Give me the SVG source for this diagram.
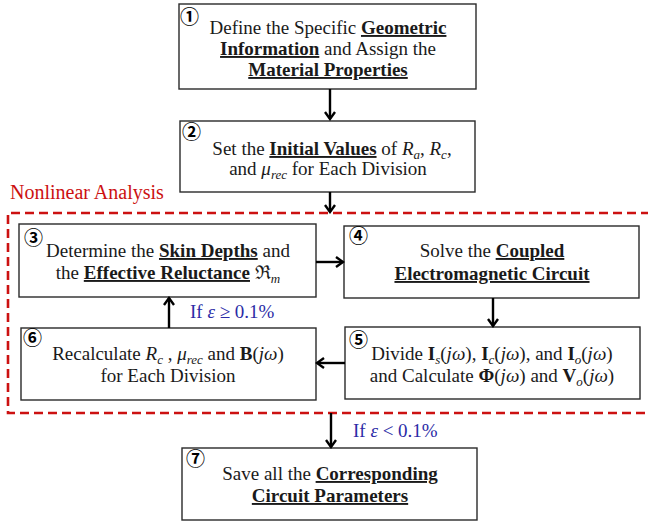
<svg xmlns="http://www.w3.org/2000/svg" width="648" height="523" viewBox="0 0 648 523">
<defs>
<marker id="ah" markerWidth="12" markerHeight="12" refX="10" refY="6" orient="auto" markerUnits="userSpaceOnUse">
<path d="M3,1 L10,6 L3,11" fill="none" stroke="#000" stroke-width="2.4" stroke-linejoin="miter"/>
</marker>
<style>
.box{fill:#fff;stroke:#2a2a2a;stroke-width:1.4}
.t{font-family:"Liberation Serif","Times New Roman","DejaVu Serif",serif;font-size:19px;fill:#1a1a1a;text-anchor:middle}
.b{font-weight:bold}
.u{text-decoration:underline}
.i{font-style:italic}
.s{font-size:13px;font-style:italic}
.num{font-family:"Noto Sans CJK JP","DejaVu Sans",sans-serif;font-size:19px;font-weight:bold;fill:#000}
.arr{stroke:#000;stroke-width:2.4;fill:none;marker-end:url(#ah)}
.dash{stroke:#cc1111;stroke-width:2.6;fill:none;stroke-dasharray:9 5}
.lbl{font-family:"Liberation Serif","Times New Roman",serif;font-size:19px;fill:#2b2ba6}
.red{font-family:"Liberation Serif","Times New Roman",serif;font-size:20px;fill:#cc1111}
</style>
</defs>

<g id="region">
<path class="dash" d="M650,213 H8 V413 H650"/>
<text class="red" x="10" y="199">Nonlinear Analysis</text>
</g>

<g id="node1">
<rect class="box" x="179" y="4" width="297" height="85"/>
<text class="num" x="180" y="24">①</text>
<text class="t" x="328" y="34">Define the Specific <tspan class="b u">Geometric</tspan></text>
<text class="t" x="328" y="55"><tspan class="b u">Information</tspan> and Assign the</text>
<text class="t" x="328" y="76"><tspan class="b u">Material Properties</tspan></text>
</g>

<g id="node2">
<rect class="box" x="180" y="121" width="295" height="71"/>
<text class="num" x="182" y="139">②</text>
<text class="t" x="332" y="155">Set the <tspan class="b u">Initial Values</tspan> of <tspan class="i">R</tspan><tspan class="s" dy="4">a</tspan><tspan dy="-4">, </tspan><tspan class="i">R</tspan><tspan class="s" dy="4">c</tspan><tspan dy="-4">,</tspan></text>
<text class="t" x="328" y="175">and <tspan class="i">μ</tspan><tspan class="s" dy="4">rec</tspan><tspan dy="-4"> for Each Division</tspan></text>
</g>

<g id="node3">
<rect class="box" x="19" y="224" width="297" height="73"/>
<text class="num" x="24" y="245">③</text>
<text class="t" x="168" y="257">Determine the <tspan class="b u">Skin Depths</tspan> and</text>
<text class="t" x="168" y="279">the <tspan class="b u">Effective Reluctance</tspan> ℜ<tspan class="s" dy="4">m</tspan></text>
</g>

<g id="node4">
<rect class="box" x="344" y="226" width="295" height="72"/>
<text class="num" x="349" y="243">④</text>
<text class="t" x="492" y="257">Solve the <tspan class="b u">Coupled</tspan></text>
<text class="t" x="492" y="280"><tspan class="b u">Electromagnetic Circuit</tspan></text>
</g>

<g id="node5">
<rect class="box" x="345" y="327" width="295" height="72"/>
<text class="num" x="349" y="347">⑤</text>
<text class="t" x="492" y="360">Divide <tspan class="b">I</tspan><tspan class="s" dy="4">s</tspan><tspan dy="-4">(</tspan><tspan class="i">jω</tspan>), <tspan class="b">I</tspan><tspan class="s" dy="4">c</tspan><tspan dy="-4">(</tspan><tspan class="i">jω</tspan>), and <tspan class="b">I</tspan><tspan class="s" dy="4">o</tspan><tspan dy="-4">(</tspan><tspan class="i">jω</tspan>)</text>
<text class="t" x="492" y="382">and Calculate <tspan class="b">Φ</tspan>(<tspan class="i">jω</tspan>) and <tspan class="b">V</tspan><tspan class="s" dy="4">o</tspan><tspan dy="-4">(</tspan><tspan class="i">jω</tspan>)</text>
</g>

<g id="node6">
<rect class="box" x="21" y="328" width="295" height="72"/>
<text class="num" x="23" y="345">⑥</text>
<text class="t" x="168" y="360">Recalculate <tspan class="i">R</tspan><tspan class="s" dy="4">c</tspan><tspan dy="-4"> , </tspan><tspan class="i">μ</tspan><tspan class="s" dy="4">rec</tspan><tspan dy="-4"> and </tspan><tspan class="b">B</tspan>(<tspan class="i">jω</tspan>)</text>
<text class="t" x="168" y="382">for Each Division</text>
</g>

<g id="node7">
<rect class="box" x="182" y="448" width="295" height="72"/>
<text class="num" x="186" y="466">⑦</text>
<text class="t" x="330" y="480">Save all the <tspan class="b u">Corresponding</tspan></text>
<text class="t" x="330" y="502"><tspan class="b u">Circuit Parameters</tspan></text>
</g>

<g id="connectors">
<line class="arr" x1="330" y1="89" x2="330" y2="119"/>
<line class="arr" x1="330" y1="192" x2="330" y2="212"/>
<line class="arr" x1="316" y1="262" x2="343" y2="262"/>
<line class="arr" x1="493" y1="298" x2="493" y2="326"/>
<line class="arr" x1="345" y1="363" x2="317" y2="363"/>
<line class="arr" x1="169" y1="328" x2="169" y2="298"/>
<line class="arr" x1="331" y1="413" x2="331" y2="447"/>
<text class="lbl" x="190" y="318">If <tspan font-style="italic">ε</tspan> ≥ 0.1%</text>
<text class="lbl" x="353" y="437">If <tspan font-style="italic">ε</tspan> &lt; 0.1%</text>
</g>
</svg>
